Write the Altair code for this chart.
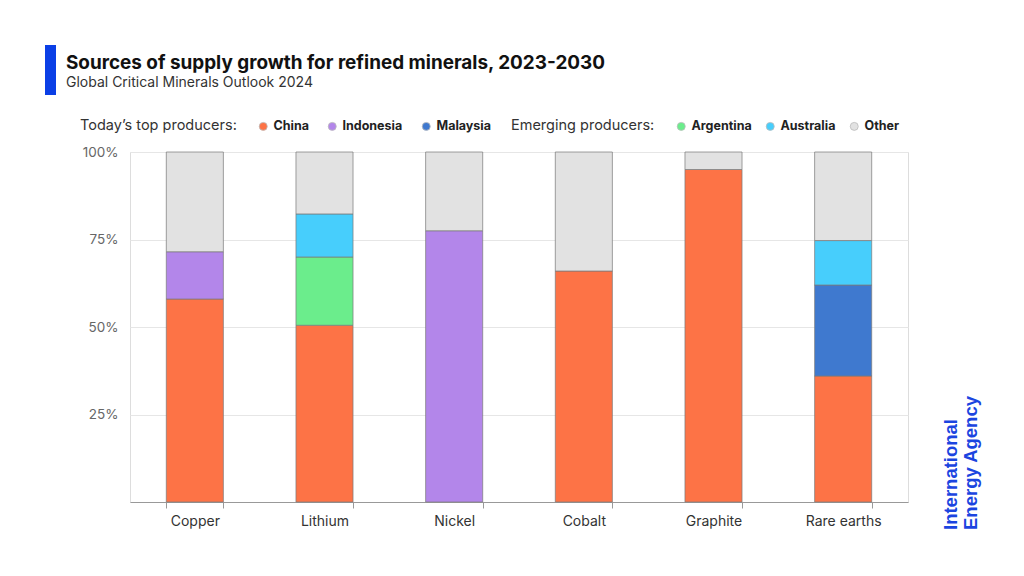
import altair as alt
import pandas as pd

minerals = ["Copper", "Lithium", "Nickel", "Cobalt", "Graphite", "Rare earths"]
china = [58, 50.5, 0, 66, 95, 36]
indonesia = [13.5, 0, 77.5, 0, 0, 0]
malaysia = [0, 0, 0, 0, 0, 26]
argentina = [0, 19.5, 0, 0, 0, 0]
australia = [0, 12.3, 0, 0, 0, 12.7]
other = [28.5, 17.7, 22.5, 34, 5, 25.3]

top_sources = ["China", "Indonesia", "Malaysia"]
top_colors = ["#fd7346", "#b386ea", "#3f79cf"]
emerging_sources = ["Argentina", "Australia", "Other"]
emerging_colors = ["#6bed8c", "#47cefc", "#e2e2e2"]

series = {
    "China": china, "Indonesia": indonesia, "Malaysia": malaysia,
    "Argentina": argentina, "Australia": australia, "Other": other,
}
order = {s: i for i, s in enumerate(top_sources + emerging_sources)}
rows = []
for s, vals in series.items():
    for m, v in zip(minerals, vals):
        if v > 0:
            rows.append({"mineral": m, "source": s, "value": v, "ord": order[s]})
df = pd.DataFrame(rows)

FONT = "Inter"

base = alt.Chart(df).transform_stack(
    stack="value", groupby=["mineral"], sort=[alt.SortField("ord")], as_=["y0", "y1"]
)

x_enc = alt.X("mineral:N", sort=minerals, title=None,
              scale=alt.Scale(paddingInner=0.56, paddingOuter=0.28),
              axis=alt.Axis(labelAngle=0, labelFont=FONT, labelFontSize=14, labelColor="#333",
                            labelPadding=6, domainColor="#999", tickColor="#999", tickSize=6,
                            tickBand="extent", grid=False))
y_enc = alt.Y("y0:Q", title=None, scale=alt.Scale(domain=[0, 100]),
              axis=alt.Axis(values=[0, 25, 50, 75, 100],
                            labelExpr="datum.value == 0 ? '' : datum.value + '%'",
                            labelFont=FONT, labelFontSize=13.5, labelColor="#666",
                            labelPadding=12, domain=False, ticks=False,
                            gridColor="#e6e6e6"))

def legend(title, x, col_pad):
    return alt.Legend(title=title, orient="none", legendX=x, legendY=-32, direction="horizontal",
                      titleOrient="left", titleFont=FONT, titleFontSize=14.5, titleFontWeight="normal",
                      titleColor="#333", titlePadding=20, titleBaseline="middle",
                      labelFont=FONT, labelFontSize=12.5, labelFontWeight="bold", labelColor="#222",
                      symbolType="circle", symbolSize=64, symbolStrokeWidth=0.8,
                      symbolStrokeColor="#bbbbbb", labelOffset=4, columnPadding=col_pad)

bar_props = dict(stroke="#7a7a7a", strokeWidth=0.9, strokeOpacity=0.8)

top_layer = base.transform_filter(
    alt.FieldOneOfPredicate(field="source", oneOf=top_sources)
).mark_bar(**bar_props).encode(
    x=x_enc, y=y_enc, y2="y1:Q",
    color=alt.Color("source:N", sort=top_sources,
                    scale=alt.Scale(domain=top_sources, range=top_colors),
                    legend=legend("Today’s top producers:", -50, 17)),
)

emerging_layer = base.transform_filter(
    alt.FieldOneOfPredicate(field="source", oneOf=emerging_sources)
).mark_bar(**bar_props).encode(
    x=alt.X("mineral:N", sort=minerals),
    y="y0:Q", y2="y1:Q",
    fill=alt.Fill("source:N", sort=emerging_sources,
                  scale=alt.Scale(domain=emerging_sources, range=emerging_colors),
                  legend=legend("Emerging producers:", 381, 12)),
)

accent = alt.Chart(pd.DataFrame({"a": [0]})).mark_rule(color="#0b3fe6", strokeWidth=11).encode(
    x=alt.value(-79.5), y=alt.value(-107), y2=alt.value(-57)
)

logo = alt.Chart(pd.DataFrame({"a": [0]})).mark_text(
    angle=270, align="left", baseline="top", font="Liberation Sans", fontWeight="bold",
    fontSize=18.5, lineHeight=20, color="#1b45e0", lineBreak="\n"
).encode(x=alt.value(812), y=alt.value(378), text=alt.value("International\nEnergy Agency"))

chart = alt.layer(top_layer, emerging_layer, accent, logo).resolve_scale(
    color="independent", fill="independent"
).properties(
    width=778, height=350,
    autosize=alt.AutoSizeParams(type="none"),
    padding={"left": 122, "top": 144, "right": 108, "bottom": 62},
    title=alt.TitleParams(
        "Sources of supply growth for refined minerals, 2023-2030",
        subtitle="Global Critical Minerals Outlook 2024",
        anchor="start", frame="group", dx=-64, offset=0, dy=50,
        font=FONT, fontSize=18.9, fontWeight="bold", color="#111",
        subtitleFont=FONT, subtitleFontSize=14, subtitleColor="#333", subtitlePadding=3,
    ),
).configure_view(stroke=None).configure(background="white")

chart.save("out.html", embed_options={"renderer": "svg", "actions": False})
